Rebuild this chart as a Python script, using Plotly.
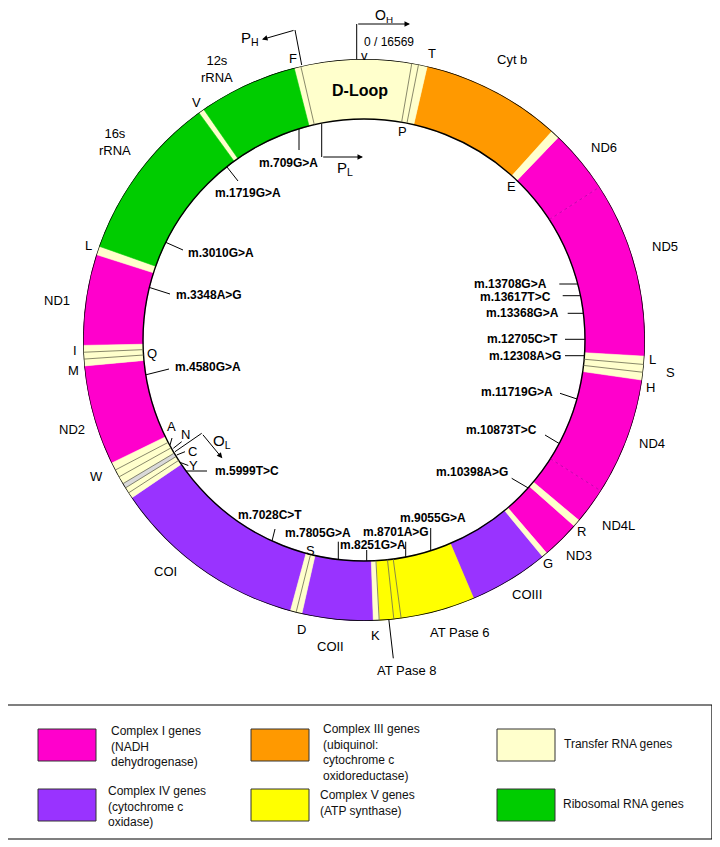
import plotly.graph_objects as go

# ---------------- data (angles, degrees clockwise from top) -------------
seg_names = ["D-Loop", "P", "T", "Cyt b", "E", "ND6", "ND5", "L", "S", "H", "ND4", "ND4L", "R",
             "ND3", "G", "COIII", "ATPase6", "ATPase8a", "ATPase8", "K", "COII", "D", "S", "COI",
             "Y", "C", "OL", "N", "A", "W", "ND2", "M", "Q", "I", "ND1", "L", "16s rRNA", "V",
             "12s rRNA", "F"]
seg_start = [-13.0, 9.8, 11.2, 13.0, 42.0, 43.8, 57.0, 93.3, 95.0, 96.6, 98.2, 122.5, 130.0,
             131.5, 139.4, 140.5, 157.0, 172.4, 173.9, 176.9, 178.1, 192.8, 194.0, 195.2,
             235.8, 237.0, 238.2, 239.2, 240.8, 242.4, 244.0, 264.7, 266.1, 267.5, 268.9, 287.7,
             289.5, 324.0, 325.2, 345.6]
seg_end = [9.8, 11.2, 13.0, 42.0, 43.8, 57.0, 93.3, 95.0, 96.6, 98.2, 122.5, 130.0, 131.5,
           139.4, 140.5, 157.0, 172.4, 173.9, 176.9, 178.1, 192.8, 194.0, 195.2, 235.8,
           237.0, 238.2, 239.2, 240.8, 242.4, 244.0, 264.7, 266.1, 267.5, 268.9, 287.7, 289.5,
           324.0, 325.2, 345.6, 347.0]
seg_class = ["tRNA", "tRNA", "tRNA", "III", "tRNA", "I", "I", "tRNA", "tRNA", "tRNA", "I", "I",
             "tRNA", "I", "tRNA", "IV", "V", "V", "V", "tRNA", "IV", "tRNA", "tRNA", "IV",
             "tRNA", "tRNA", "OL", "tRNA", "tRNA", "tRNA", "I", "tRNA", "tRNA", "tRNA", "I",
             "tRNA", "rRNA", "tRNA", "rRNA", "tRNA"]

divider_angles = [347.0, 9.8, 11.2, 95.0, 96.6, 172.4, 173.9, 176.9, 194.0, 237.0, 238.2,
                  239.2, 240.8, 242.4, 266.1, 267.5]
faint_angles = [57.0, 122.5]

mutations = ["m.709G>A", "m.1719G>A", "m.3010G>A", "m.3348A>G", "m.4580G>A", "m.5999T>C",
             "m.7028C>T", "m.7805G>A", "m.8251G>A", "m.8701A>G", "m.9055G>A", "m.10398A>G",
             "m.10873T>C", "m.11719G>A", "m.12308A>G", "m.12705C>T", "m.13368G>A",
             "m.13617T>C", "m.13708G>A"]

legend_labels = ["Complex I genes<br>(NADH<br>dehydrogenase)",
                 "Complex III genes<br>(ubiquinol:<br>cytochrome c<br>oxidoreductase)",
                 "Transfer RNA genes",
                 "Complex IV genes<br>(cytochrome c<br>oxidase)",
                 "Complex V genes<br>(ATP synthase)",
                 "Ribosomal RNA genes"]
legend_classes = ["I", "III", "tRNA", "IV", "V", "rRNA"]

# ---------------- style / layout ----------------
PAGE_W, PAGE_H = 720, 847
OFF = 8                      # default body margin of the html page
W, H = PAGE_W - OFF, PAGE_H - OFF
CX, CY, R_OUT, R_IN = 364, 340, 281, 221   # page pixels
FONT = "Liberation Sans, Arial, sans-serif"
colors = {"I": "#ff00cc", "III": "#ff9900", "IV": "#9933ff", "V": "#ffff00",
          "tRNA": "#ffffcc", "rRNA": "#00cc00", "OL": "#d9d9d9"}

fig = go.Figure()

# invisible full-page cartesian frame (page-pixel coordinates) for leaders / labels
fig.add_trace(go.Scatter(x=[OFF, PAGE_W], y=[OFF, PAGE_H], mode="markers",
                         marker=dict(opacity=0), hoverinfo="skip", showlegend=False))

# ring segments
for cls in ["I", "III", "IV", "V", "tRNA", "rRNA", "OL"]:
    idx = [i for i, c in enumerate(seg_class) if c == cls]
    th = [(seg_start[i] + seg_end[i]) / 2 for i in idx]
    wd = [seg_end[i] - seg_start[i] for i in idx]
    fig.add_trace(go.Barpolar(
        theta=th, width=wd, r=[R_OUT - R_IN] * len(idx), base=[R_IN] * len(idx),
        marker=dict(color=colors[cls], line=dict(color=colors[cls], width=0.6)),
        text=[seg_names[i] for i in idx], hoverinfo="text", showlegend=False))

# thin dividers between adjacent tRNAs
dth, dr = [], []
for a in divider_angles:
    dth += [a, a, None]
    dr += [R_IN, R_OUT, None]
fig.add_trace(go.Scatterpolar(theta=dth, r=dr, mode="lines",
                              line=dict(color="#6b6b50", width=0.8),
                              hoverinfo="skip", showlegend=False))
fth, fr = [], []
for a in faint_angles:
    fth += [a, a, None]
    fr += [R_IN, R_OUT, None]
fig.add_trace(go.Scatterpolar(theta=fth, r=fr, mode="lines",
                              line=dict(color="rgba(150,0,150,0.55)", width=1, dash="dot"),
                              hoverinfo="skip", showlegend=False))

# outer / inner black borders (a transparent full ring with outline; seam at F/D-loop)
fig.add_trace(go.Barpolar(theta=[347.0 + 180], width=[360], r=[R_OUT - R_IN], base=[R_IN],
                          marker=dict(color="rgba(0,0,0,0)", line=dict(color="black", width=1.4)),
                          hoverinfo="skip", showlegend=False))

# ---------------- leaders ----------------
leaders = [
    ((299, 127), (299, 150)), ((227, 167), (238, 181)), ((165, 242), (183, 250)),
    ((148, 287), (170, 294)), ((145, 375), (169, 369)), ((183, 471), (207, 471)),
    ((275, 529), (271.5, 543)), ((338.3, 541.7), (338.3, 561.7)),
    ((366.7, 550), (366.7, 563.3)), ((405.7, 541.7), (405.7, 558.3)),
    ((430.7, 528), (430.7, 551.7)), ((511.7, 478.3), (531.7, 490)),
    ((545, 435), (561.7, 445)), ((560, 393.3), (580, 400)),
    ((565, 355.7), (586.7, 355.7)), ((565, 339.3), (587.3, 339.3)),
    ((567.7, 313.3), (585, 313.3)), ((562.7, 295.7), (582.7, 295.7)),
    ((559.3, 284), (580, 284)),
]
mut_xy = [(288, 163), (248, 193), (221, 253), (209, 295), (208, 367), (247, 471),
          (270, 515), (318, 533), (372.5, 545), (396, 531.7), (432.5, 518.3), (471.7, 471.7),
          (501.7, 430), (516.7, 391.7), (525, 355.7), (522.7, 339.3), (522.7, 313.3),
          (515, 296.5), (510, 283.5)]

# other helper lines (promoter/origin arrows, tRNA ticks, AT Pase 8 pointer)
extra_lines = [
    [(301.7, 65), (295, 30)], [(356.7, 60), (356.7, 24)], [(321.7, 122), (321.7, 157)],
    [(175, 451.7), (201.7, 433.3)],
    [(170, 445), (172, 438)], [(173.3, 448.3), (181.7, 441.7)],
    [(176.7, 455), (185, 451.7)], [(178.3, 461.7), (188.3, 465.5)],
    [(388.3, 615), (393.3, 658.3)],
]
lx, ly = [], []
for (a, b) in leaders:
    lx += [a[0], b[0], None]
    ly += [a[1], b[1], None]
for seg in extra_lines:
    for p in seg:
        lx.append(p[0]); ly.append(p[1])
    lx.append(None); ly.append(None)
fig.add_trace(go.Scatter(x=lx, y=ly, mode="lines", line=dict(color="black", width=1),
                         hoverinfo="skip", showlegend=False))

ann = []
def txt(x, y, s, size=13, bold=False, xanchor="center", align="center"):
    ann.append(dict(x=x, y=y, xref="x", yref="y", text=(f"<b>{s}</b>" if bold else s),
                    showarrow=False, xanchor=xanchor, yanchor="middle", align=align,
                    font=dict(family=FONT, size=size, color="black")))

for name, (x, y) in zip(mutations, mut_xy):
    txt(x, y, name.replace(">", "&gt;"), size=12, bold=True)

gene_labels = [
    ("T", 431.7, 53.3), ("Cyt b", 511.7, 59.3), ("E", 511.7, 186.7), ("ND6", 604, 147.7),
    ("ND5", 665, 246.7), ("L", 652.3, 359), ("S", 670.7, 372.7), ("H", 650.7, 387.3),
    ("ND4", 651.7, 443.3), ("ND4L", 618.3, 525), ("R", 581.7, 531.7), ("ND3", 579.3, 555),
    ("G", 548.3, 563.3), ("COIII", 526.7, 594), ("AT Pase 6", 460, 632.7),
    ("AT Pase 8", 406.7, 670), ("K", 375, 635), ("COII", 330, 646.7), ("D", 301.7, 629.3),
    ("S", 310, 550), ("COI", 165, 571.7), ("W", 96.7, 476.7), ("A", 171.7, 426),
    ("N", 185, 434), ("C", 192.3, 451.7), ("Y", 193.3, 465), ("ND2", 72, 429),
    ("M", 73, 370), ("I", 75, 350), ("Q", 152, 353), ("ND1", 57, 300), ("L", 88.3, 245),
    ("16s<br>rRNA", 115, 142), ("V", 196.7, 102.7), ("12s<br>rRNA", 216.7, 69),
    ("F", 293.3, 58.3), ("P", 402.7, 131.7), ("v", 364, 55), ("0 / 16569", 389, 41.5),
]
for s, x, y in gene_labels:
    txt(x, y, s, size=13 if s != "0 / 16569" else 12)
txt(360, 90.7, "D-Loop", size=16, bold=True)
txt(250, 38, "P<sub>H</sub>", size=15)
txt(384, 16, "O<sub>H</sub>", size=14)
txt(345, 168, "P<sub>L</sub>", size=15)
txt(222, 441, "O<sub>L</sub>", size=15)

# arrowheads
for (hx, hy, tx, ty) in [(262, 39.5, 295, 30), (410, 24, 356.7, 24),
                         (363, 157, 321.7, 157), (222.3, 458.3, 201.7, 433.3)]:
    ann.append(dict(x=hx, y=hy, ax=tx, ay=ty, xref="x", yref="y", axref="x", ayref="y",
                    text="", showarrow=True, arrowhead=2, arrowsize=1.1, arrowwidth=1,
                    arrowcolor="black"))

# ---------------- legend ----------------
shapes = [dict(type="rect", xref="x", yref="y", x0=7, y0=705, x1=712, y1=839,
               line=dict(color="black", width=1.2), fillcolor="rgba(0,0,0,0)")]
sw_x = [38, 251, 497]
sw_y = [729, 789]
SW_H = 32
tx_x = [[109, 321, 562], [106, 318, 561]]
tx_y = [[746, 752, 744], [806, 803, 804]]
for k, (lab, cls) in enumerate(zip(legend_labels, legend_classes)):
    row, col = divmod(k, 3)
    shapes.append(dict(type="rect", xref="x", yref="y", x0=sw_x[col], x1=sw_x[col] + 58,
                       y0=sw_y[row], y1=sw_y[row] + SW_H, fillcolor=colors[cls],
                       line=dict(color="#333333", width=1)))
    ann.append(dict(x=tx_x[row][col], y=tx_y[row][col], xref="x", yref="y", text=lab,
                    showarrow=False, xanchor="left", yanchor="middle", align="left",
                    font=dict(family=FONT, size=12, color="#111111")))

fig.update_layout(
    width=W, height=H, margin=dict(l=0, r=0, t=0, b=0), autosize=False,
    paper_bgcolor="white", plot_bgcolor="rgba(0,0,0,0)", showlegend=False,
    xaxis=dict(range=[OFF, PAGE_W], visible=False, domain=[0, 1], fixedrange=True),
    yaxis=dict(range=[PAGE_H, OFF], visible=False, domain=[0, 1], fixedrange=True),
    polar=dict(
        domain=dict(x=[(CX - R_OUT - OFF) / W, (CX + R_OUT - OFF) / W],
                    y=[(PAGE_H - CY - R_OUT) / H, (PAGE_H - CY + R_OUT) / H]),
        bgcolor="rgba(0,0,0,0)", barmode="overlay",
        radialaxis=dict(range=[0, R_OUT], visible=False),
        angularaxis=dict(rotation=90, direction="clockwise", visible=False),
    ),
    annotations=ann, shapes=shapes,
)

fig.write_html("out.html")
